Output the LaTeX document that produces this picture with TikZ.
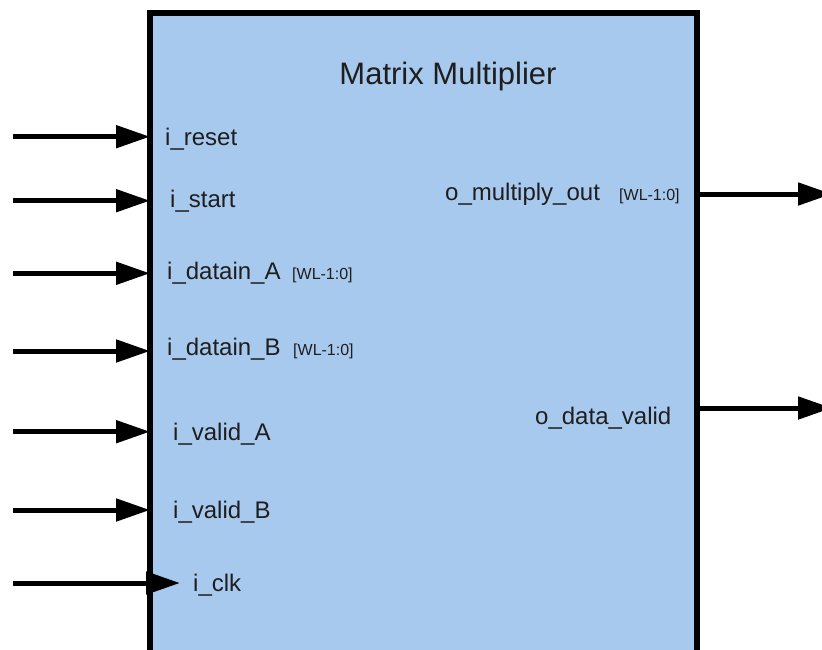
\documentclass[tikz,border=0pt]{standalone}
\usepackage{fontspec}
\setmainfont{Liberation Sans}
\usetikzlibrary{arrows.meta}
\definecolor{boxblue}{RGB}{168,201,238}
\definecolor{txt}{RGB}{30,30,30}
\tikzset{
  port/.style={anchor=base west, inner sep=0pt, text=txt, font=\fontsize{24}{26}\selectfont},
  bus/.style={anchor=base west, inner sep=0pt, text=txt, font=\fontsize{16}{18}\selectfont},
  title/.style={anchor=base, inner sep=0pt, text=txt, font=\fontsize{31}{34}\selectfont},
  sig/.style={line width=5pt, -{Triangle[length=34pt, width=22pt]}},
  blk/.style={draw=black, line width=6pt, fill=boxblue}
}
\begin{document}
\begin{tikzpicture}[x=1pt, y=-1pt]
\useasboundingbox (0,0) rectangle (822,649);
\clip (0,0) rectangle (822,649);
% block
\node[blk, anchor=north west, minimum width=547pt, minimum height=720pt, inner sep=0pt, outer sep=0pt] (box) at (150,12.5) {};
% title
\node[title] (ttl) at (448,84) {Matrix Multiplier};
% input ports
\node[port] (lreset) at (165,145) {i\_reset};
\node[port] (lstart) at (170,207) {i\_start};
\node[port] (ldA) at (167,279) {i\_datain\_A};
\node[bus] (wA) at (292,279) {[WL-1:0]};
\node[port] (ldB) at (167,355) {i\_datain\_B};
\node[bus] (wB) at (293,355) {[WL-1:0]};
\node[port] (lvA) at (173,440) {i\_valid\_A};
\node[port] (lvB) at (173,518) {i\_valid\_B};
\node[port] (lclk) at (193,591) {i\_clk};
% output ports
\node[port] (lmul) at (445,200) {o\_multiply\_out};
\node[bus] (wM) at (619,200) {[WL-1:0]};
\node[port] (ldv) at (535,424) {o\_data\_valid};
% connector end points
\coordinate (sreset) at (13,136.7);
\coordinate (sstart) at (13,200.7);
\coordinate (sdA) at (13,273.3);
\coordinate (sdB) at (13,351);
\coordinate (svA) at (13,431.7);
\coordinate (svB) at (13,510);
\coordinate (sclk) at (13,583);
\coordinate (tclk) at (180,583);
\coordinate (emul) at (832,194);
\coordinate (edv) at (832,408);
% input arrows
\draw[sig] (sreset) -- (sreset -| box.west);
\draw[sig] (sstart) -- (sstart -| box.west);
\draw[sig] (sdA) -- (sdA -| box.west);
\draw[sig] (sdB) -- (sdB -| box.west);
\draw[sig] (svA) -- (svA -| box.west);
\draw[sig] (svB) -- (svB -| box.west);
\draw[sig] (sclk) -- (tclk);
% output arrows
\draw[sig] (emul -| box.east) -- (emul);
\draw[sig] (edv -| box.east) -- (edv);
\end{tikzpicture}
\end{document}
